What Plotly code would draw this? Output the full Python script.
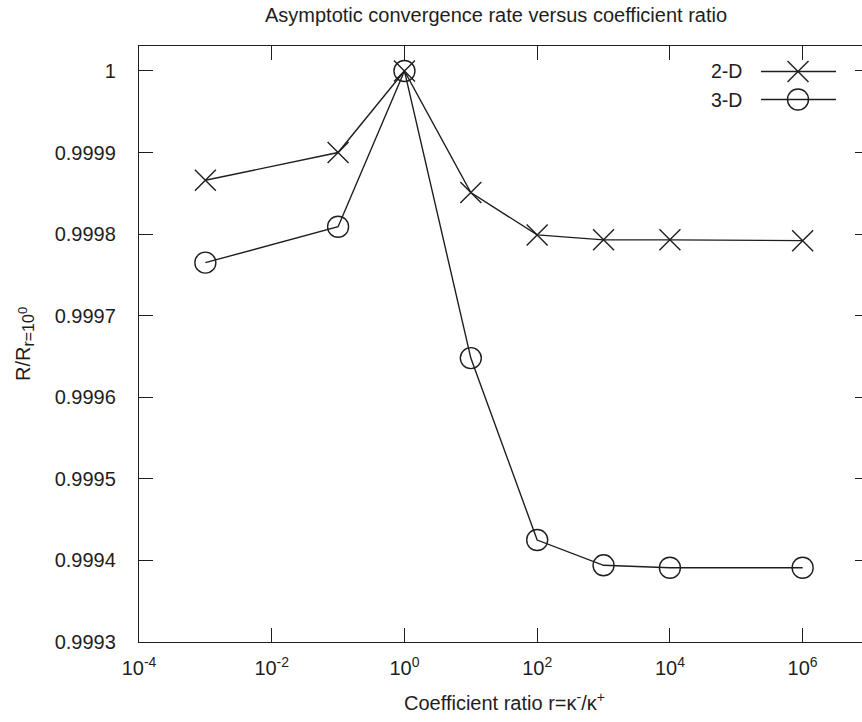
import plotly.graph_objects as go

# Coefficient ratios r = kappa-/kappa+ and normalised convergence rates
ratio = [1e-3, 1e-1, 1e0, 1e1, 1e2, 1e3, 1e4, 1e6]
rate_2d = [0.999866, 0.999900, 1.000000, 0.999851, 0.999799, 0.999793, 0.999793, 0.999792]
rate_3d = [0.999765, 0.999809, 1.000000, 0.999648, 0.999425, 0.999394, 0.999391, 0.999391]

x_tickvals = [1e-4, 1e-2, 1e0, 1e2, 1e4, 1e6]
x_ticktext = ["10<sup>-4</sup>", "10<sup>-2</sup>", "10<sup>0</sup>",
              "10<sup>2</sup>", "10<sup>4</sup>", "10<sup>6</sup>"]
y_tickvals = [0.9993, 0.9994, 0.9995, 0.9996, 0.9997, 0.9998, 0.9999, 1.0]
y_ticktext = ["0.9993", "0.9994", "0.9995", "0.9996", "0.9997", "0.9998", "0.9999", "1"]

INK = "#1e1e1e"
FONT = "Liberation Sans, Arial, sans-serif"
FS = 20
W, H = 882, 722
ML, MR, MT, MB = 139, 13, 46, 80

fig = go.Figure()
fig.add_trace(go.Scatter(
    x=ratio, y=rate_2d, mode="lines+markers", name="2-D",
    line=dict(color=INK, width=1.4),
    marker=dict(symbol="x-thin-open", size=21, color=INK, line=dict(color=INK, width=1.4)),
    showlegend=False))
fig.add_trace(go.Scatter(
    x=ratio, y=rate_3d, mode="lines+markers", name="3-D",
    line=dict(color=INK, width=1.4),
    marker=dict(symbol="circle-open", size=21, color=INK, line=dict(color=INK, width=1.4)),
    showlegend=False))

# gnuplot-style key: label on the left, sample line with marker on the right
def px(xp):
    return (xp - ML) / (W - ML - MR)

def py(yp):
    return 1 - (yp - MT) / (H - MT - MB)

shapes = []
annotations = []
for label, row_y, sym in [("2-D", 71.5, "x"), ("3-D", 99.5, "o")]:
    annotations.append(dict(xref="paper", yref="paper", x=px(744), y=py(row_y),
                            text=label, showarrow=False, xanchor="right", yanchor="middle",
                            font=dict(family=FONT, size=19.5, color=INK)))
    shapes.append(dict(type="line", xref="paper", yref="paper",
                       x0=px(761), x1=px(836), y0=py(row_y), y1=py(row_y),
                       line=dict(color=INK, width=1.4)))
    cx, r = 798, 10.5
    if sym == "x":
        shapes.append(dict(type="line", xref="paper", yref="paper",
                           x0=px(cx - r), x1=px(cx + r), y0=py(row_y - r), y1=py(row_y + r),
                           line=dict(color=INK, width=1.4)))
        shapes.append(dict(type="line", xref="paper", yref="paper",
                           x0=px(cx - r), x1=px(cx + r), y0=py(row_y + r), y1=py(row_y - r),
                           line=dict(color=INK, width=1.4)))
    else:
        shapes.append(dict(type="circle", xref="paper", yref="paper",
                           x0=px(cx - r), x1=px(cx + r), y0=py(row_y - r), y1=py(row_y + r),
                           line=dict(color=INK, width=1.4)))

# Title and axis labels
annotations.append(dict(xref="paper", yref="paper", x=px(496), y=py(15),
                        text="Asymptotic convergence rate versus coefficient ratio",
                        showarrow=False, xanchor="center", yanchor="middle",
                        font=dict(family=FONT, size=FS, color=INK)))
annotations.append(dict(xref="paper", yref="paper", x=px(504), y=py(701),
                        text="Coefficient ratio r=\u03ba<sup>-</sup>/\u03ba<sup>+</sup>",
                        showarrow=False, xanchor="center", yanchor="middle",
                        font=dict(family=FONT, size=FS, color=INK)))
annotations.append(dict(xref="paper", yref="paper", x=px(24), y=py(344),
                        text=("R/R<sub><span style='font-size:16px'>r=10"
                              "<sup><span style='font-size:13px'>0</span></sup></span></sub>"),
                        textangle=-90,
                        showarrow=False, xanchor="center", yanchor="middle",
                        font=dict(family=FONT, size=FS, color=INK)))

fig.update_layout(
    width=W, height=H,
    margin=dict(l=ML, r=MR, t=MT, b=MB, pad=0),
    paper_bgcolor="white", plot_bgcolor="white",
    font=dict(family=FONT, size=FS, color=INK),
    shapes=shapes, annotations=annotations,
    xaxis=dict(type="log", range=[-4, 7], tickvals=x_tickvals, ticktext=x_ticktext,
               ticks="inside", ticklen=14, tickwidth=1.2, tickcolor=INK,
               showline=True, linecolor=INK, linewidth=1.4, mirror="ticks",
               showgrid=False, zeroline=False, ticklabelstandoff=8,
               tickfont=dict(family=FONT, size=FS, color=INK)),
    yaxis=dict(range=[0.9993, 1.0000306], tickvals=y_tickvals, ticktext=y_ticktext,
               ticks="inside", ticklen=14, tickwidth=1.2, tickcolor=INK,
               showline=True, linecolor=INK, linewidth=1.4, mirror="ticks",
               showgrid=False, zeroline=False, ticklabelstandoff=18,
               tickfont=dict(family=FONT, size=FS, color=INK)),
)

fig.write_html("out.html", post_script=(
    "document.documentElement.style.overflow='hidden';"
    "document.body.style.overflow='hidden';"))
